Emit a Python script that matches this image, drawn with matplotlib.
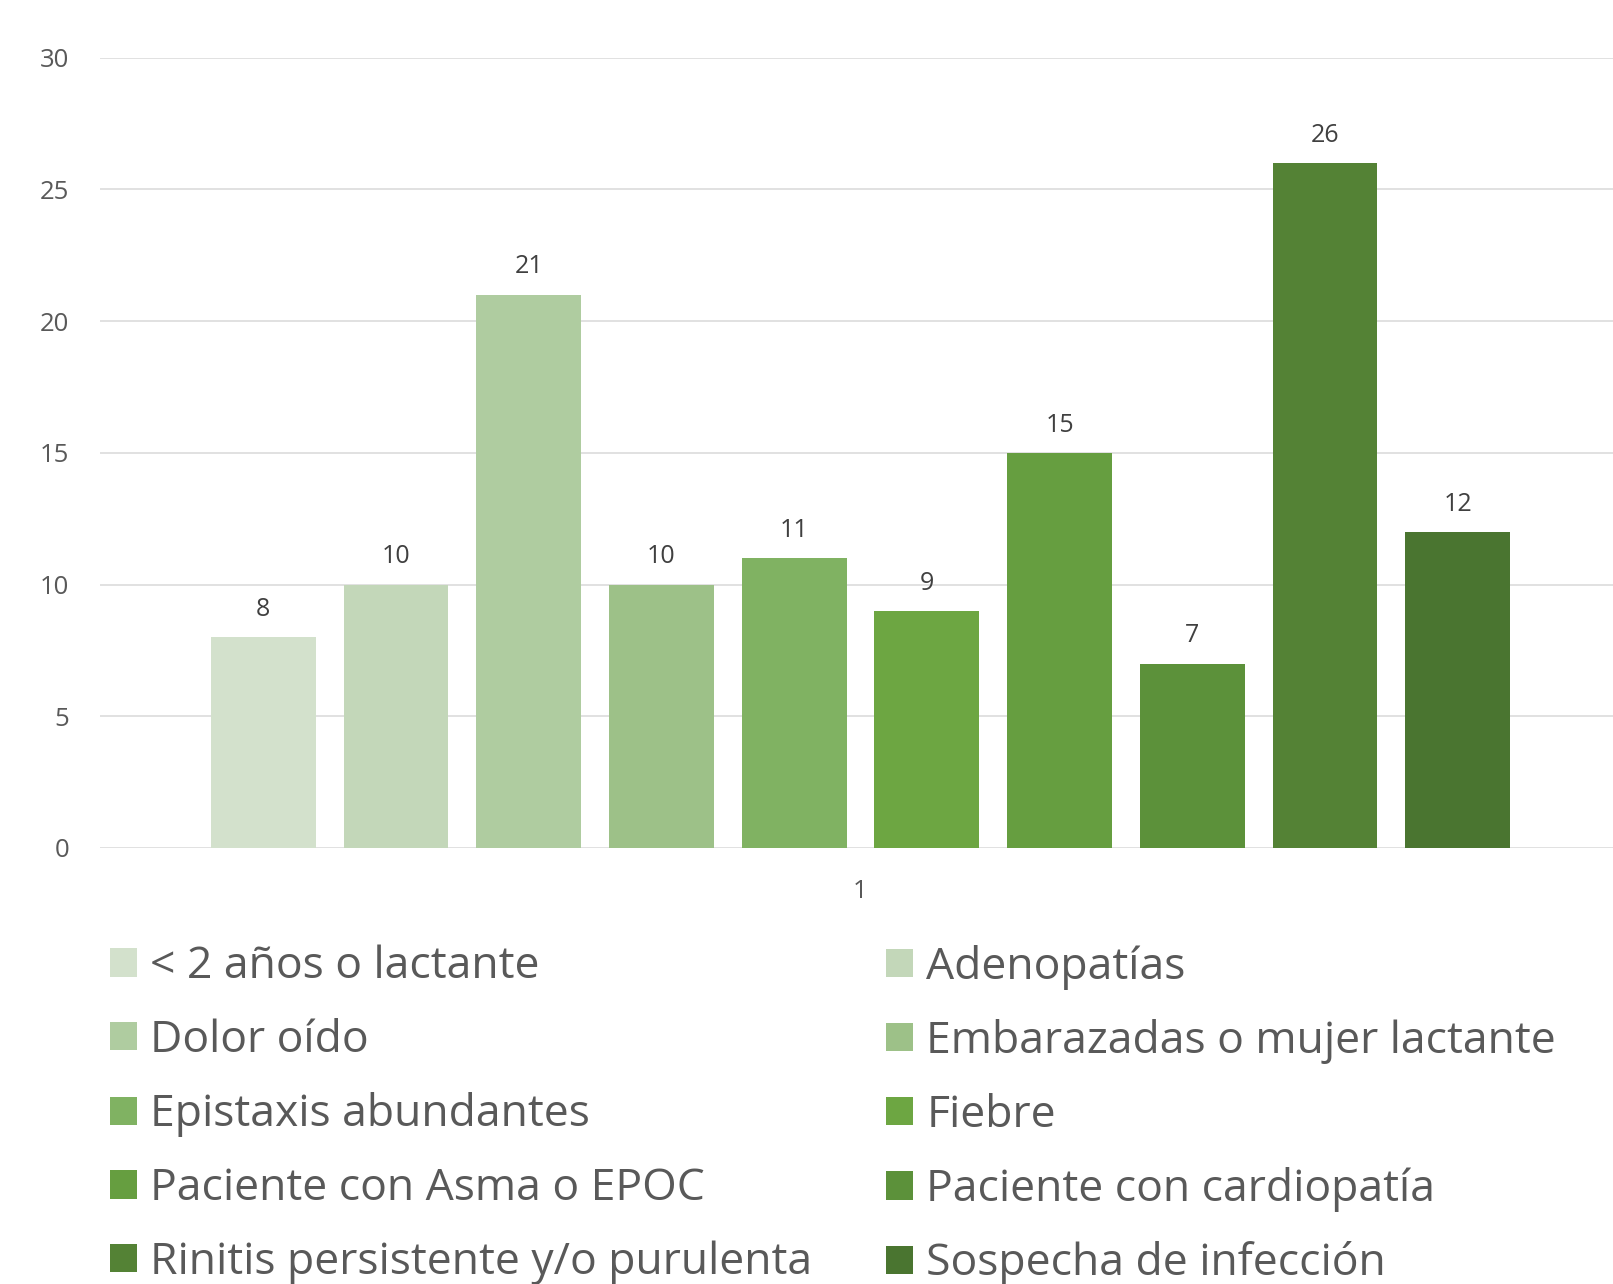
import matplotlib
matplotlib.use("Agg")
import matplotlib.pyplot as plt

plt.rcParams['font.family'] = ['Open Sans', 'DejaVu Sans']

categories = ['< 2 años o lactante', 'Adenopatías', 'Dolor oído',
              'Embarazadas o mujer lactante', 'Epistaxis abundantes', 'Fiebre',
              'Paciente con Asma o EPOC', 'Paciente con cardiopatía',
              'Rinitis persistente y/o purulenta', 'Sospecha de infección']
values = [8, 10, 21, 10, 11, 9, 15, 7, 26, 12]
colors = ['#D3E1CC', '#C3D7B9', '#AFCCA0', '#9DC188', '#80B262',
          '#6DA642', '#669E40', '#5C913A', '#548235', '#4A7530']

fig = plt.figure(figsize=(16.13, 12.84), dpi=100)
ax = fig.add_axes([0.062, 0.3396, 0.938, 0.6155])

n = len(values)
bars = []
for i, (lab, v, c) in enumerate(zip(categories, values, colors)):
    x = i - (n - 1) / 2
    b = ax.bar(x, v, width=0.79, color=c, label=lab, zorder=3)
    bars.append(b)
    ax.annotate(str(v), (x, v), xytext=(0, 11), textcoords='offset points',
                ha='center', va='bottom', fontsize=18, color='#404040')

ax.set_xlim(-5.73, 5.67)
ax.set_ylim(0, 30)
ax.set_yticks(range(0, 31, 5))
ax.set_xticks([0])
ax.set_xticklabels(['1'])
ax.tick_params(axis='both', length=0, labelsize=18.5, labelcolor='#595959')
ax.tick_params(axis='y', pad=22)
ax.tick_params(axis='x', pad=22)
ax.yaxis.grid(True, color='#D9D9D9', linewidth=1.1, zorder=0)
for s in ax.spines.values():
    s.set_visible(False)

leg_kw = dict(frameon=False, fontsize=32, handlelength=0.6, handleheight=0.6,
              handletextpad=0.3, labelspacing=0.66, borderaxespad=0, borderpad=0,
              labelcolor='#595959', loc='upper left')
h = [b[0] for b in bars]
leg1 = fig.legend(h[0::2], categories[0::2], bbox_to_anchor=(0.0685, 0.2643), **leg_kw)
leg2 = fig.legend(h[1::2], categories[1::2], bbox_to_anchor=(0.5495, 0.2643), **leg_kw)

fig.savefig('out.png', dpi=100)
